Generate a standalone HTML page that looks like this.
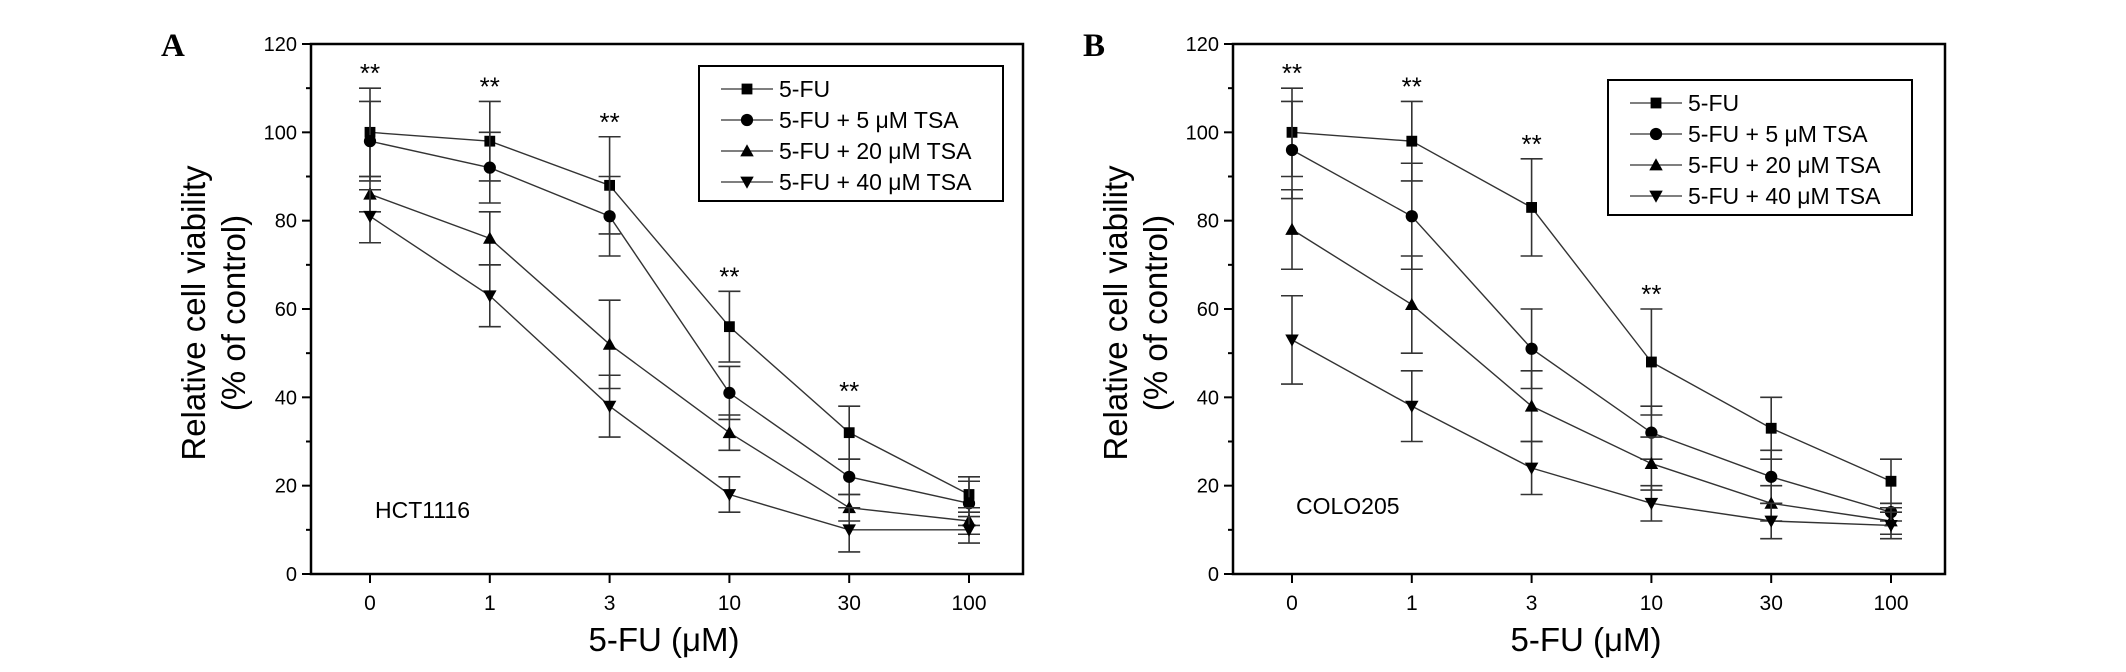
<!DOCTYPE html>
<html><head><meta charset="utf-8"><style>
body{margin:0;background:#fff;}
svg{display:block;font-family:"Liberation Sans",sans-serif;}
</style></head><body>
<svg id="chart" width="2126" height="672" viewBox="0 0 2126 672"></svg>
<script>
const categories = ["0","1","3","10","30","100"];
const yTicks = [0,20,40,60,80,100,120];
const seriesNames = ["5-FU","5-FU + 5 μM TSA","5-FU + 20 μM TSA","5-FU + 40 μM TSA"];
const markers = ["square","circle","up","down"];
const aFU = [100,98,88,56,32,18];
const aFUerr = [10,9,11,8,6,4];
const aTSA5 = [98,92,81,41,22,16];
const aTSA5err = [9,8,9,6,4,5];
const aTSA20 = [86,76,52,32,15,12];
const aTSA20err = [4,6,10,4,3,3];
const aTSA40 = [81,63,38,18,10,10];
const aTSA40err = [6,7,7,4,5,3];
const aStars = [0,1,2,3,4];
const bFU = [100,98,83,48,33,21];
const bFUerr = [10,9,11,12,7,5];
const bTSA5 = [96,81,51,32,22,14];
const bTSA5err = [11,12,9,6,6,2];
const bTSA20 = [78,61,38,25,16,12];
const bTSA20err = [9,11,8,6,4,3];
const bTSA40 = [53,38,24,16,12,11];
const bTSA40err = [10,8,6,4,4,3];
const bStars = [0,1,2,3];

const NS="http://www.w3.org/2000/svg";
const svg=document.getElementById('chart');
function mk(tag,attrs,parent,text){const e=document.createElementNS(NS,tag);for(const k in attrs)e.setAttribute(k,attrs[k]);if(text!==undefined)e.textContent=text;(parent||svg).appendChild(e);return e;}

function marker(g,type,x,y,s){
  if(type==="square") return mk('rect',{x:x-s*0.6,y:y-s*0.6,width:s*1.2,height:s*1.2,fill:'#000'},g);
  if(type==="circle") return mk('circle',{cx:x,cy:y,r:s*0.68,fill:'#000'},g);
  if(type==="up") return mk('polygon',{points:`${x-s*0.75},${y+s*0.6} ${x+s*0.75},${y+s*0.6} ${x},${y-s*0.75}`,fill:'#000'},g);
  return mk('polygon',{points:`${x-s*0.75},${y-s*0.6} ${x+s*0.75},${y-s*0.6} ${x},${y+s*0.75}`,fill:'#000'},g);
}

function panel(cfg){
  const L=cfg.left,R=cfg.left+712,T=44,B=574;
  const xs=i=>L+59+i*119.8;
  const ys=v=>B-(v/120)*(B-T);
  const g=mk('g',{},svg);
  
  
  const letter=mk('text',{x:cfg.left-150,y:56,'font-family':'Liberation Serif,serif','font-weight':'bold','font-size':33},g,cfg.letter);
  
  
  const frame=mk('rect',{x:L,y:T,width:R-L,height:B-T,fill:'none',stroke:'#000','stroke-width':2.5},g);
  
  
  for(let v=0;v<=120;v+=10){
    const major=v%20===0;
    mk('line',{x1:L-(major?9:5),x2:L,y1:ys(v),y2:ys(v),stroke:'#000','stroke-width':2},g);
  }
  yTicks.forEach(v=>{
    const t=mk('text',{x:L-14,y:ys(v)+7,'text-anchor':'end','font-size':20},g,String(v));
    
    
  });
  categories.forEach((c,i)=>{
    mk('line',{x1:xs(i),x2:xs(i),y1:B,y2:B+9,stroke:'#000','stroke-width':2},g);
    const t=mk('text',{x:xs(i),y:B+36,'text-anchor':'middle','font-size':21},g,c);
    
    
  });
  const yt=mk('text',{transform:`translate(${L-106},${(T+B)/2+4}) rotate(-90)`,'text-anchor':'middle','font-size':33},g,'Relative cell viability');
  
  
  const yt2=mk('text',{transform:`translate(${L-66},${(T+B)/2+4}) rotate(-90)`,'text-anchor':'middle','font-size':33},g,'(% of control)');
  
  
  const xt=mk('text',{x:(L+R)/2-3,y:651,'text-anchor':'middle','font-size':33},g,'5-FU (μM)');
  
  
  const cl=mk('text',{x:L+cfg.cellX,y:cfg.cellY,'font-size':23},g,cfg.cell);
  
  
  cfg.series.forEach((s,si)=>{
    const sg=mk('g',{},g);
    
    
    const pts=s.v.map((v,i)=>xs(i)+','+ys(v)).join(' ');
    mk('polyline',{points:pts,fill:'none',stroke:'#333','stroke-width':1.4},sg);
    s.v.forEach((v,i)=>{
      const x=xs(i),e=s.e[i];
      mk('line',{x1:x,x2:x,y1:ys(v+e),y2:ys(v-e),stroke:'#333','stroke-width':1.6},sg);
      mk('line',{x1:x-11,x2:x+11,y1:ys(v+e),y2:ys(v+e),stroke:'#333','stroke-width':1.6},sg);
      mk('line',{x1:x-11,x2:x+11,y1:ys(v-e),y2:ys(v-e),stroke:'#333','stroke-width':1.6},sg);
      const m=marker(sg,markers[si],x,ys(v),9);
      
      
    });
  });
  const top=cfg.series[0];
  cfg.stars.forEach(i=>{
    const st=mk('text',{x:xs(i),y:ys(top.v[i]+top.e[i])-6,'text-anchor':'middle','font-size':26},g,'**');
    
    
  });
  const lg=mk('g',{},g);
  
  
  const lx=cfg.legX,ly=cfg.legY;
  mk('rect',{x:lx,y:ly,width:304,height:135,fill:'#fff',stroke:'#000','stroke-width':2},lg);
  seriesNames.forEach((n,i)=>{
    const y=ly+23+i*31;
    const e=mk('g',{},lg);
    
    
    mk('line',{x1:lx+22,x2:lx+74,y1:y,y2:y,stroke:'#333','stroke-width':1.3},e);
    marker(e,markers[i],lx+48,y,9);
    mk('text',{x:lx+80,y:y+8,'font-size':23},e,n);
  });
}
panel({name:'panel-a',letter:'A',left:311,cell:'HCT1116',cellX:64,cellY:518,legX:699,legY:66,stars:aStars,
 series:[{v:aFU,e:aFUerr},{v:aTSA5,e:aTSA5err},{v:aTSA20,e:aTSA20err},{v:aTSA40,e:aTSA40err}]});
panel({name:'panel-b',letter:'B',left:1233,cell:'COLO205',cellX:63,cellY:514,legX:1608,legY:80,stars:bStars,
 series:[{v:bFU,e:bFUerr},{v:bTSA5,e:bTSA5err},{v:bTSA20,e:bTSA20err},{v:bTSA40,e:bTSA40err}]});
</script>
</body></html>
